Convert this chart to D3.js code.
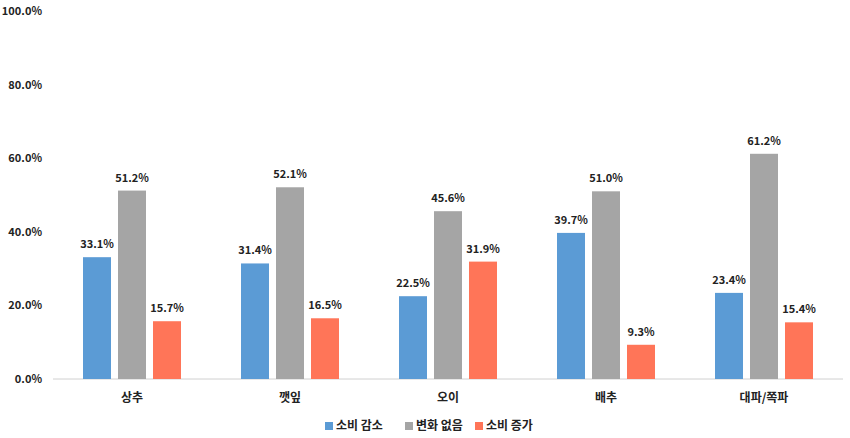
<!DOCTYPE html>
<html><head><meta charset="utf-8">
<script src="https://cdn.jsdelivr.net/npm/d3@7"></script>
<style>body{margin:0;background:#fff}text{font-family:"Noto Sans CJK KR","Noto Sans",sans-serif}</style>
</head><body><svg id="c" width="850" height="438"></svg>
<script>
'use strict';
var categories = ['상추', '깻잎', '오이', '배추', '대파/쪽파'];
var seriesNames = ['소비 감소', '변화 없음', '소비 증가'];
var decrease = [33.1, 31.4, 22.5, 39.7, 23.4];
var noChange = [51.2, 52.1, 45.6, 51.0, 61.2];
var increase = [15.7, 16.5, 31.9, 9.3, 15.4];
var yTicks = [0, 20, 40, 60, 80, 100];
var colors = ['#5b9bd5', '#a5a5a5', '#ff7558'];

var series = [decrease, noChange, increase];
var svg = d3.select('#c');
var x = d3.scaleBand().domain(categories).range([53, 843]);
var y = d3.scaleLinear().domain([0, 100]).range([379, 11]);
var inner = d3.scaleBand().domain([0, 1, 2]).range([x.bandwidth() / 2 - 49, x.bandwidth() / 2 + 49]).paddingInner(0.2);

svg.selectAll('.yl').data(yTicks).enter().append('text')
  .attr('x', 42).attr('y', d => y(d) + 4).attr('text-anchor', 'end')
  .attr('font-size', 11).attr('font-weight', 'bold').attr('fill', '#222')
  .text(d => d.toFixed(1) + '%');

svg.append('line').attr('x1', 53).attr('x2', 843).attr('y1', y(0)).attr('y2', y(0))
  .attr('stroke', '#d0d0d0');

var g = svg.selectAll('.grp').data(categories).enter().append('g')
  .attr('transform', d => `translate(${x(d)},0)`);

series.forEach((vals, si) => {
  g.append('rect')
    .attr('x', inner(si)).attr('width', inner.bandwidth())
    .attr('y', (d, i) => y(vals[i])).attr('height', (d, i) => y(0) - y(vals[i]))
    .attr('fill', colors[si]);
  g.append('text')
    .attr('x', inner(si) + inner.bandwidth() / 2).attr('y', (d, i) => y(vals[i]) - 9)
    .attr('text-anchor', 'middle').attr('font-size', 11).attr('font-weight', 'bold').attr('fill', '#222')
    .text((d, i) => vals[i].toFixed(1) + '%');
});

g.append('text').attr('x', x.bandwidth() / 2).attr('y', 402).attr('text-anchor', 'middle')
  .attr('font-size', 12).attr('font-weight', 'bold').attr('fill', '#222').text(d => d);

var legendX = [325, 405, 475];
var lg = svg.selectAll('.lg').data(seriesNames).enter().append('g')
  .attr('transform', (d, i) => `translate(${legendX[i]},430)`);
lg.append('rect').attr('x', 0).attr('y', -8).attr('width', 8).attr('height', 8).attr('fill', (d, i) => colors[i]);
lg.append('text').attr('x', 11).attr('y', 0).attr('font-size', 12).attr('font-weight', 'bold')
  .attr('fill', '#222').text(d => d);
</script></body></html>
